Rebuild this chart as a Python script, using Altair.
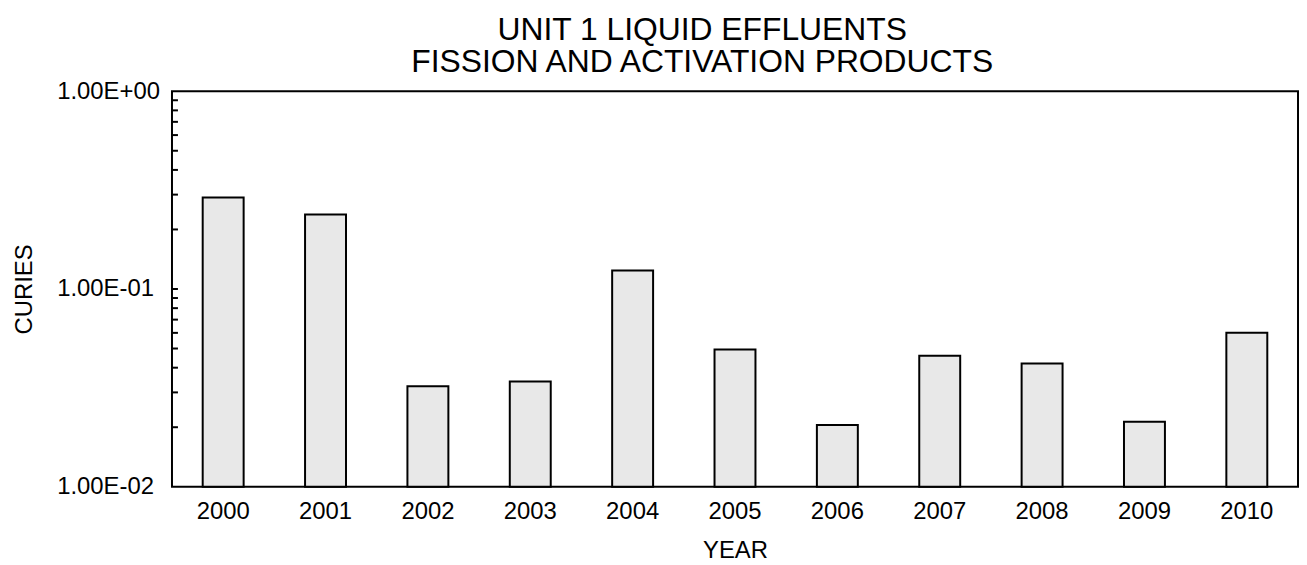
import json
import altair as alt
import pandas as pd

YEARS = ["2000", "2001", "2002", "2003", "2004", "2005", "2006", "2007", "2008", "2009", "2010"]
CURIES = [0.29, 0.238, 0.0322, 0.0341, 0.124, 0.0494, 0.0205, 0.046, 0.042, 0.0213, 0.060]
MINOR_TICKS = [0.02, 0.03, 0.04, 0.05, 0.06, 0.07, 0.08, 0.09, 0.1,
               0.2, 0.3, 0.4, 0.5, 0.6, 0.7, 0.8, 0.9]
Y_TICK_VALUES = [0.01, 0.1, 1.0]
Y_TICK_LABELS = ["1.00E-02", "1.00E-01", "1.00E+00"]
TITLE_LINES = ["UNIT 1 LIQUID EFFLUENTS", "FISSION AND ACTIVATION PRODUCTS"]

FONT = "Liberation Sans"
AX_FS = 24

df = pd.DataFrame({"year": YEARS, "curies": CURIES})
ticks_df = pd.DataFrame({"curies": MINOR_TICKS})

label_expr = f"{json.dumps(Y_TICK_LABELS)}[round(log(datum.value)/LN10)+2]"

yscale = alt.Scale(type="log", domain=[Y_TICK_VALUES[0], Y_TICK_VALUES[-1]])

yaxis = alt.Axis(
    values=Y_TICK_VALUES, labelExpr=label_expr, ticks=False, domain=False, grid=False,
    labelAlign="left", labelBaseline="middle", labelPadding=116, labelFontSize=AX_FS,
    labelColor="black", labelFont=FONT,
    title="CURIES", titleX=-148, titleY=199, titleAngle=270, titleAlign="center",
    titleBaseline="middle", titleFontSize=AX_FS, titleFontWeight="normal",
    titleColor="black", titleFont=FONT,
)

xaxis = alt.Axis(
    labelAngle=0, ticks=False, tickSize=0, domain=False, grid=False,
    labelFontSize=AX_FS, labelPadding=13, labelColor="black", labelFont=FONT,
    title="YEAR", titleY=64, titleBaseline="middle", titleFontSize=AX_FS,
    titleFontWeight="normal", titleColor="black", titleFont=FONT,
)

bars = alt.Chart(df).mark_bar(fill="#e8e8e8", stroke="black", strokeWidth=2).encode(
    x=alt.X("year:N", sort=YEARS, scale=alt.Scale(paddingInner=0.6, paddingOuter=0.3), axis=xaxis),
    y=alt.Y("curies:Q", scale=yscale, axis=yaxis),
    y2=alt.datum(Y_TICK_VALUES[0]),
)

tick_marks = alt.Chart(ticks_df).mark_rule(color="black", strokeWidth=2).encode(
    y=alt.Y("curies:Q", scale=yscale, axis=yaxis),
    x=alt.value(0),
    x2=alt.value(6),
)

chart = (
    alt.layer(bars, tick_marks)
    .properties(
        width=1133,
        height=398,
        title=alt.TitleParams(
            TITLE_LINES, fontSize=32, fontWeight="normal", font=FONT, color="black",
            anchor="middle", lineHeight=33, offset=0, dx=-33,
        ),
        autosize=alt.AutoSizeParams(type="none"),
        padding={"left": 165, "top": 82, "right": 1, "bottom": 76},
    )
    .configure(font=FONT)
    .configure_view(stroke="black", strokeWidth=2)
)

chart.save("out.html", embed_options={"renderer": "svg", "actions": False})
